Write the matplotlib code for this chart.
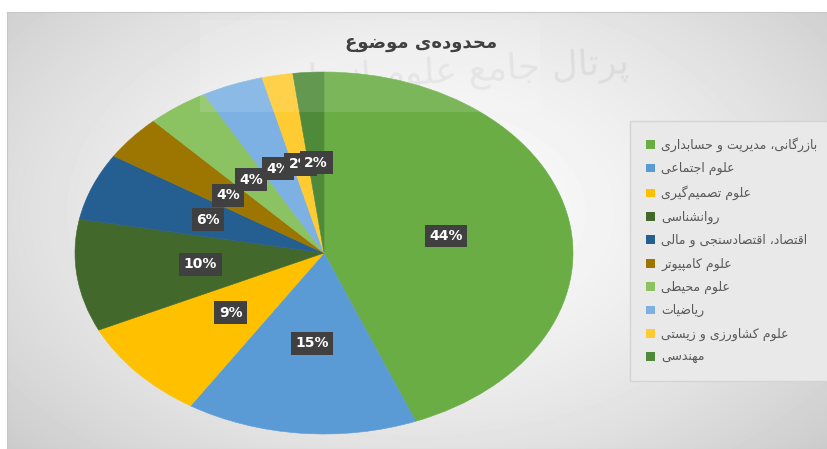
import numpy as np
import matplotlib
matplotlib.use("Agg")
import matplotlib.pyplot as plt
from matplotlib.patches import Rectangle

# ---------------- data ----------------
title = "محدوده‌ی موضوع"
categories = [
    "بازرگانی، مدیریت و حسابداری",
    "علوم اجتماعی",
    "علوم تصمیم‌گیری",
    "روانشناسی",
    "اقتصاد، اقتصادسنجی و مالی",
    "علوم کامپیوتر",
    "علوم محیطی",
    "ریاضیات",
    "علوم کشاورزی و زیستی",
    "مهندسی",
]
values = [44, 15, 9, 10, 6, 4, 4, 4, 2, 2]
colors = ["#6BAD45", "#5B9BD5", "#FFC000", "#43682B", "#255E91",
          "#9C7600", "#8BC363", "#7DB1E3", "#FFCB33", "#4E8A3A"]
watermark = "پرتال جامع علوم انسانی"

# ---------------- simple Arabic-script shaping ----------------
FORMS = {
    '\u0627': ('\uFE8D', '\uFE8E', None, None),
    '\u0628': ('\uFE8F', '\uFE90', '\uFE91', '\uFE92'),
    '\u067E': ('\uFB56', '\uFB57', '\uFB58', '\uFB59'),
    '\u062A': ('\uFE95', '\uFE96', '\uFE97', '\uFE98'),
    '\u062C': ('\uFE9D', '\uFE9E', '\uFE9F', '\uFEA0'),
    '\u062D': ('\uFEA1', '\uFEA2', '\uFEA3', '\uFEA4'),
    '\u062F': ('\uFEA9', '\uFEAA', None, None),
    '\u0631': ('\uFEAD', '\uFEAE', None, None),
    '\u0632': ('\uFEAF', '\uFEB0', None, None),
    '\u0633': ('\uFEB1', '\uFEB2', '\uFEB3', '\uFEB4'),
    '\u0634': ('\uFEB5', '\uFEB6', '\uFEB7', '\uFEB8'),
    '\u0635': ('\uFEB9', '\uFEBA', '\uFEBB', '\uFEBC'),
    '\u0636': ('\uFEBD', '\uFEBE', '\uFEBF', '\uFEC0'),
    '\u0637': ('\uFEC1', '\uFEC2', '\uFEC3', '\uFEC4'),
    '\u0639': ('\uFEC9', '\uFECA', '\uFECB', '\uFECC'),
    '\u0642': ('\uFED5', '\uFED6', '\uFED7', '\uFED8'),
    '\u06A9': ('\uFB8E', '\uFB8F', '\uFB90', '\uFB91'),
    '\u0643': ('\uFED9', '\uFEDA', '\uFEDB', '\uFEDC'),
    '\u06AF': ('\uFB92', '\uFB93', '\uFB94', '\uFB95'),
    '\u0644': ('\uFEDD', '\uFEDE', '\uFEDF', '\uFEE0'),
    '\u0645': ('\uFEE1', '\uFEE2', '\uFEE3', '\uFEE4'),
    '\u0646': ('\uFEE5', '\uFEE6', '\uFEE7', '\uFEE8'),
    '\u0647': ('\uFEE9', '\uFEEA', '\uFEEB', '\uFEEC'),
    '\u0648': ('\uFEED', '\uFEEE', None, None),
    '\u06CC': ('\uFBFC', '\uFBFD', '\uFBFE', '\uFBFF'),
    '\u064A': ('\uFEF1', '\uFEF2', '\uFEF3', '\uFEF4'),
}


def shape(s):
    out = []
    for i, c in enumerate(s):
        if c not in FORMS:
            if c != '\u200c':
                out.append(c)
            continue
        prev = s[i - 1] if i > 0 else None
        nxt = s[i + 1] if i + 1 < len(s) else None
        jp = prev in FORMS and FORMS[prev][2] is not None
        jn = FORMS[c][2] is not None and nxt in FORMS
        iso, fin, ini, med = FORMS[c]
        if jp and jn:
            out.append(med)
        elif jp:
            out.append(fin)
        elif jn:
            out.append(ini)
        else:
            out.append(iso)
    return ''.join(reversed(out))


W, H = 827, 449
fig = plt.figure(figsize=(W / 100, H / 100), dpi=100, facecolor="white")


def fx(px):
    return px / W


def fy(py):
    return 1 - py / H


# ---------------- background gradient ----------------
bg = fig.add_axes([fx(7), 0, fx(W) - fx(7), fy(12)])
yy, xx = np.mgrid[0:437, 0:820]
cx, cy = 410, 200
d = np.sqrt(((xx - cx) / 520.0) ** 2 + ((yy - cy) / 330.0) ** 2)
val = np.clip(0.985 - 0.17 * d ** 1.6, 0.79, 1.0)
bg.imshow(val, cmap="gray", vmin=0, vmax=1, aspect="auto",
          extent=(0, 820, 437, 0), interpolation="bilinear")
bg.set_xticks([])
bg.set_yticks([])
for sp in bg.spines.values():
    sp.set_color("#c8c8c8")
    sp.set_linewidth(0.8)
bg.set_zorder(0)

# watermark (faint)
fig.text(fx(448), fy(74), shape(watermark), fontsize=26, color="#8a8a8a",
         alpha=0.14, ha="center", va="center", family=["DejaVu Sans"],
         rotation=3, zorder=1)

# ---------------- pie ----------------
cxp, cyp, rx, ry = 324, 253, 249, 181
ax = fig.add_axes([fx(cxp - rx), fy(cyp + ry), 2 * rx / W, 2 * ry / H])
ax.set_zorder(2)
ax.patch.set_alpha(0)
wedges, texts, autotexts = ax.pie(
    values, colors=colors, startangle=90, counterclock=False,
    autopct="%1.0f%%", pctdistance=0.5,
    wedgeprops=dict(linewidth=0.4),
    textprops=dict(color="white", fontsize=10, fontweight="bold"),
)
for w, c in zip(wedges, colors):
    w.set_edgecolor(c)
for t in autotexts:
    t.set_bbox(dict(boxstyle="square,pad=0.32", fc="#404040", ec="none"))
ax.set_aspect("auto")
ax.set_xlim(-1, 1)
ax.set_ylim(-1, 1)
ax.axis("off")

# translucent watermark band
fig.patches.append(Rectangle((fx(200), fy(112)), fx(540) - fx(200), fy(20) - fy(112),
                             transform=fig.transFigure, fc="white", ec="none",
                             alpha=0.12, zorder=3))

# ---------------- title ----------------
fig.text(fx(421), fy(43), shape(title), fontsize=13, fontweight="bold",
         color="#404040", ha="center", va="center", family=["DejaVu Sans"],
         zorder=5)

# ---------------- legend ----------------
handles = [Rectangle((0, 0), 1, 1, fc=c, ec="none") for c in colors]
leg = fig.legend(handles, [shape(c) for c in categories],
                 loc="upper left", bbox_to_anchor=(fx(630), fy(121)),
                 borderaxespad=0, frameon=True, fancybox=False,
                 facecolor="#e9e9e9", edgecolor="#d4d4d4", framealpha=1,
                 labelcolor="#595959", handlelength=0.7,
                 handleheight=0.7, handletextpad=0.5, labelspacing=0.82,
                 borderpad=1.3, prop={"family": ["DejaVu Sans"], "size": 9})
leg.set_zorder(6)

fig.savefig("out.png", dpi=100, facecolor="white")
